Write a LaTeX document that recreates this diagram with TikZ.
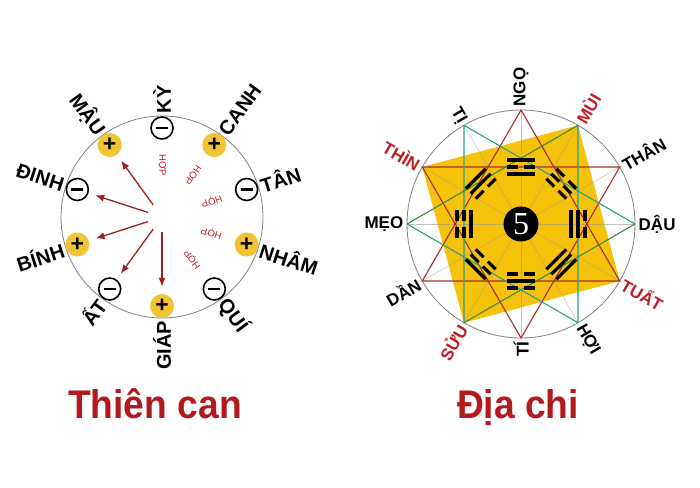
\documentclass[tikz,border=0pt]{standalone}
\usepackage{fontspec}
\setmainfont{Liberation Sans}
\newfontfamily\titlefont[FakeStretch=0.93]{Liberation Sans}
\newfontfamily\numfont{Liberation Serif}
\usetikzlibrary{calc,positioning,arrows.meta}
\definecolor{canred}{RGB}{178,24,30}
\definecolor{arrred}{RGB}{160,30,34}
\definecolor{markgold}{RGB}{240,196,50}
\definecolor{sqgold}{RGB}{246,194,10}
\definecolor{starred}{RGB}{170,45,45}
\definecolor{stargreen}{RGB}{60,140,55}
\definecolor{starteal}{RGB}{40,160,140}
\definecolor{chired}{RGB}{190,30,35}

\tikzset{
  canlab/.style={font=\fontsize{20}{20}\selectfont\bfseries, inner sep=1.5pt},
  chilab/.style={font=\fontsize{17}{17}\selectfont\bfseries, inner sep=1.5pt},
  pmark/.style={circle, fill=markgold, minimum size=24pt, inner sep=0pt, font=\fontsize{23}{23}\selectfont\bfseries},
  mmark/.style={circle, draw=black, line width=1.6pt, fill=white, minimum size=22pt, inner sep=0pt},
  hop/.style={font=\fontsize{9.5}{9.5}\selectfont, text=chired, inner sep=0pt},
  canarr/.style={arrred, line width=1.3pt, -{Latex[length=9pt,width=7pt]}, shorten <=15pt, shorten >=7pt},
  spoke/.style={black!40, line width=0.5pt, opacity=0.6},
  redline/.style={starred, line width=1.1pt},
  greenline/.style={stargreen, line width=1.1pt},
  tealline/.style={starteal, line width=1.1pt},
  yao/.style={black, line width=3.2pt},
  ys/.style={},
  yb/.style={dash pattern=on 11pt off 6pt},
  title/.style={font=\titlefont\fontsize{40}{40}\selectfont\bfseries, text=canred, anchor=base}
}

\begin{document}
\begin{tikzpicture}[x=1pt,y=1pt]
\useasboundingbox (0,0) rectangle (700,487);

\coordinate (tc) at (162,270);
\draw[gray, line width=0.8pt] (tc) circle[radius=101pt];
\foreach \a/\nm in {270/giap, 198/binh, 126/mau, 54/canh, -18/nham}
  \node[pmark] (\nm) at ($(tc)+(\a:89pt)$) {+};
\foreach \a/\nm in {234/at, 162/dinh, 90/ky, 18/tan, -54/qui}
  \node[mmark] (\nm) at ($(tc)+(\a:89pt)$) {\rule[-1.2pt]{12pt}{2.4pt}};
\foreach \a/\txt [count=\i] in {270/GIÁP, 234/ẤT, 198/BÍNH, 162/ĐINH, 126/MẬU}
  \node[canlab, rotate=\a-180, anchor=east] (l\i) at ($(tc)+(\a:102pt)$) {\txt};
\foreach \a/\txt [count=\i from 6] in {90/KỲ, 54/CANH, 18/TÂN, -18/NHÂM, -54/QUÍ}
  \node[canlab, rotate=\a, anchor=west] (l\i) at ($(tc)+(\a:102pt)$) {\txt};
\foreach \nm in {giap,at,binh,dinh,mau}
  \draw[canarr] (tc) -- (\nm);
\foreach \a [count=\i] in {90,54,18,-18,-54}
  \node[hop, rotate=\a+180] (h\i) at ($(tc)+(\a:52pt)$) {HỢP};

\coordinate (dc) at (521,263);
\foreach \a [count=\i] in {90,60,30,0,-30,-60,-90,-120,-150,180,150,120}
  \coordinate (p\i) at ($(dc)+(\a:114pt)$);
\fill[sqgold] (p11) -- (p2) -- (p5) -- (p8) -- cycle;
\draw[gray, line width=0.8pt] (dc) circle[radius=114pt];
\foreach \i in {1,...,12}
  \draw[spoke] (dc) -- (p\i);
\draw[redline] (p1) -- (p9) -- (p5) -- cycle;
\draw[redline] (p11) -- (p3) -- (p7) -- cycle;
\draw[tealline] (p8) -- (p12) -- (p4);
\draw[greenline] (p4) -- (p8);
\draw[tealline] (p6) -- (p2) (p10) -- (p6);
\draw[greenline] (p10) -- (p2);

\foreach \a/\ya/\yb/\yc in {90/ys/yb/ys, 45/yb/yb/yb, 0/ys/ys/yb, -45/ys/ys/ys, -90/yb/ys/yb, -135/yb/yb/ys, 180/ys/yb/yb, 135/yb/ys/ys}{
  \begin{scope}[shift={($(dc)+(\a:57pt)$)}, rotate=\a-90]
    \draw[yao, \ya] (-14pt,-7pt) -- (14pt,-7pt);
    \draw[yao, \yb] (-14pt,0pt) -- (14pt,0pt);
    \draw[yao, \yc] (-14pt,7pt) -- (14pt,7pt);
  \end{scope}
}
\node[circle, fill=black, minimum size=35pt, inner sep=0pt, text=white, font=\numfont\fontsize{32}{32}\selectfont] (five) at (dc) {5};

\foreach \a/\col/\txt [count=\i] in {90/black/NGỌ, 60/chired/MÙI, 30/black/THÂN, 0/black/DẬU, -30/chired/TUẤT, -60/black/HỢI}
  \node[chilab, text=\col, rotate=\a, anchor=west] (n\i) at ($(dc)+(\a:116pt)$) {\txt};
\foreach \a/\col/\txt [count=\i from 7] in {-90/black/TÍ, -120/chired/SỬU, -150/black/DẦN, 180/black/MẸO, 150/chired/THÌN, 120/black/TỊ}
  \node[chilab, text=\col, rotate=\a-180, anchor=east] (n\i) at ($(dc)+(\a:116pt)$) {\txt};

\node[title] (tcap) at (155,69) {Thiên can};
\node[title] (dcap) at (518,69) {Địa chi};
\end{tikzpicture}
\end{document}
